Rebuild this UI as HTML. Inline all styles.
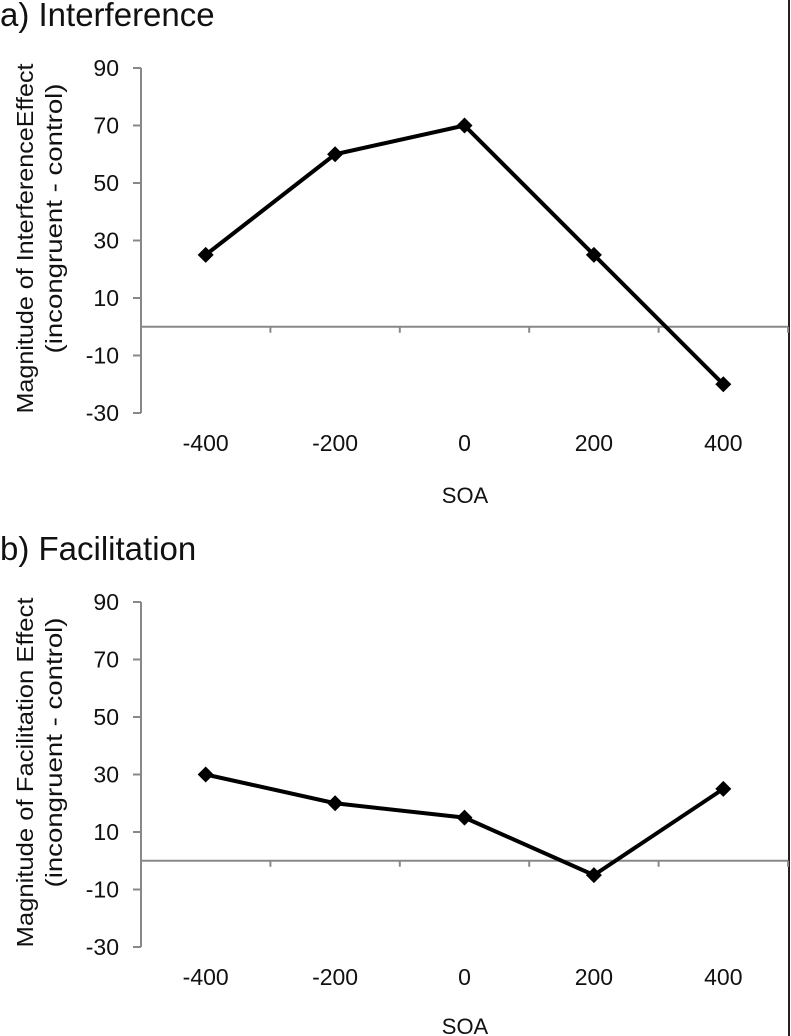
<!DOCTYPE html>
<html><head><meta charset="utf-8"><style>
html,body{margin:0;padding:0;background:#fff}
svg{display:block;font-family:"Liberation Sans",Arial,sans-serif}
</style></head><body>
<svg id="svg" width="791" height="1036" viewBox="0 0 791 1036">
<line x1="789" y1="0" x2="789" y2="1036" stroke="#222" stroke-width="2"/>
</svg>
<script>
const categories = [-400, -200, 0, 200, 400];
const interferenceValues = [25, 60, 70, 25, -20];
const facilitationValues = [30, 20, 15, -5, 25];
const yTicks = [90, 70, 50, 30, 10, -10, -30];

const NS = "http://www.w3.org/2000/svg";
const svg = document.getElementById('svg');
function mk(tag, attrs, parent) {
  const e = document.createElementNS(NS, tag);
  for (const k in attrs) e.setAttribute(k, attrs[k]);
  (parent || svg).appendChild(e);
  return e;
}

function drawPanel(prefix, title, ylabel1, values, top, bottom, titleY, tickLabelY, soaY) {
  const g = mk('g', {});
  
  
  const axisX = 141, right = 788;
  const yMin = -30, yMax = 90;
  const y = v => top + (yMax - v) / (yMax - yMin) * (bottom - top);
  const step = (right - axisX) / categories.length;
  const x = i => axisX + step * (i + 0.5);

  const t = mk('text', {x: 0, y: titleY, 'font-size': 33, fill: '#111'}, g);
  t.textContent = title;
  
  

  const ya = mk('line', {x1: axisX, y1: top, x2: axisX, y2: bottom, stroke: '#888', 'stroke-width': 2}, g);
  
  
  yTicks.forEach(v => {
    const tk = mk('line', {x1: axisX - 8, y1: y(v), x2: axisX, y2: y(v), stroke: '#888', 'stroke-width': 2}, g);
    
    
    const l = mk('text', {x: 119, y: y(v) + 8, 'font-size': 23, 'text-anchor': 'end', fill: '#111'}, g);
    l.textContent = v;
    
    
  });

  const y0 = y(0);
  const xa = mk('line', {x1: axisX, y1: y0, x2: right, y2: y0, stroke: '#888', 'stroke-width': 2}, g);
  
  
  for (let i = 1; i <= categories.length; i++) {
    const tk = mk('line', {x1: axisX + step * i, y1: y0, x2: axisX + step * i, y2: y0 + 6, stroke: '#888', 'stroke-width': 2}, g);
    
    
  }
  categories.forEach((c, i) => {
    const l = mk('text', {x: x(i), y: tickLabelY, 'font-size': 23, 'text-anchor': 'middle', fill: '#111'}, g);
    l.textContent = c;
    
    
  });
  const s = mk('text', {x: 465, y: soaY, 'font-size': 22, 'text-anchor': 'middle', fill: '#111'}, g);
  s.textContent = 'SOA';
  
  

  const cy = (top + bottom) / 2;
  const yl = mk('text', {x: 0, y: 0, 'font-size': 23, 'text-anchor': 'middle', fill: '#111', textLength: 350, lengthAdjust: 'spacingAndGlyphs', transform: `translate(33 ${cy - 2}) rotate(-90)`}, g);
  yl.textContent = ylabel1;
  
  
  const yl2 = mk('text', {x: 0, y: 0, 'font-size': 23, 'text-anchor': 'middle', fill: '#111', textLength: 270, lengthAdjust: 'spacingAndGlyphs', transform: `translate(62 ${cy - 22}) rotate(-90)`}, g);
  yl2.textContent = '(incongruent - control)';
  
  

  const pts = values.map((v, i) => x(i) + ',' + y(v)).join(' ');
  const pl = mk('polyline', {points: pts, fill: 'none', stroke: '#000', 'stroke-width': 4}, g);
  
  
  values.forEach((v, i) => {
    const px = x(i), py = y(v), r = 8;
    const m = mk('polygon', {points: `${px},${py - r} ${px + r},${py} ${px},${py + r} ${px - r},${py}`, fill: '#000'}, g);
    
    
  });
}

drawPanel('interference', 'a) Interference', 'Magnitude of InterferenceEffect', interferenceValues, 68, 413, 26, 451, 503);
drawPanel('facilitation', 'b) Facilitation', 'Magnitude of Facilitation Effect', facilitationValues, 602, 947, 560, 985, 1034);
</script>
</body></html>
